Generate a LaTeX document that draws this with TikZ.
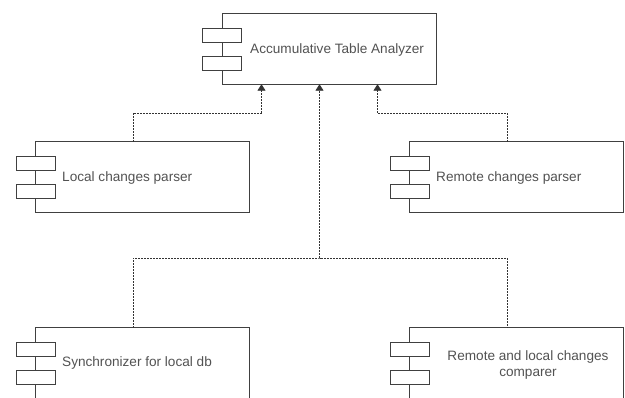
\documentclass[tikz,border=0pt]{standalone}
\usepackage{fontspec}
\setmainfont{Liberation Sans}
\usetikzlibrary{arrows.meta,calc}
\newcommand\drawcomp[1]{%
  \draw[boxline] ($(#1.north west)+(19.5,0)$) rectangle (#1.south east);
  \draw[portbox] ($(#1.north west)+(0,14.5)$) rectangle ($(#1.north west)+(39,28.5)$);
  \draw[portbox] ($(#1.north west)+(0,42.5)$) rectangle ($(#1.north west)+(39,56.5)$);
}
\begin{document}
\begin{tikzpicture}[x=1pt,y=-1pt,
  comp/.style={minimum width=233pt, minimum height=70pt, inner sep=0pt, draw=none},
  boxline/.style={draw=black!75, line width=0.9pt},
  portbox/.style={draw=black!75, fill=white, line width=0.9pt},
  lbl/.style={font=\fontsize{13.6}{16}\selectfont, text=black!68, inner sep=0pt},
  conn/.style={draw=black!80, line width=0.8pt, dash pattern=on 2pt off 1pt},
  tip/.style={-{Triangle[length=6.5pt,width=8pt]}}
]
\useasboundingbox (0,0) rectangle (625,398);
\clip (0,0) rectangle (625,398);

\node[comp] (ata) at (319.5,49) {};
\node[comp] (lcp) at (133,177) {};
\node[comp] (rcp) at (507,177) {};
\node[comp, minimum height=74pt] (sld) at (133,365) {};
\node[comp, minimum height=74pt] (cmp) at (507,365) {};

\drawcomp{ata}
\drawcomp{lcp}
\drawcomp{rcp}
\drawcomp{sld}
\drawcomp{cmp}

\node[lbl, anchor=west] (tata) at (250,50) {Accumulative Table Analyzer};
\node[lbl, anchor=west] (tlcp) at (62,178) {Local changes parser};
\node[lbl, anchor=west] (trcp) at (436,178) {Remote changes parser};
\node[lbl, anchor=west] (tsld) at (62,363) {Synchronizer for local db};
\node[lbl, align=center] (tcmp) at (528,364.5) {Remote and local changes\\comparer};

\coordinate (la) at (261.5,113);
\coordinate (ra) at (377.5,113);
\coordinate (j) at (319.5,258);

\draw[conn] (lcp.north) |- (la);
\draw[conn, tip] (la) -- (la |- ata.south);
\draw[conn] (rcp.north) |- (ra);
\draw[conn, tip] (ra) -- (ra |- ata.south);
\draw[conn] (sld.north) |- (j) -| (cmp.north);
\draw[conn, tip] (j) -- (ata.south);
\end{tikzpicture}
\end{document}
